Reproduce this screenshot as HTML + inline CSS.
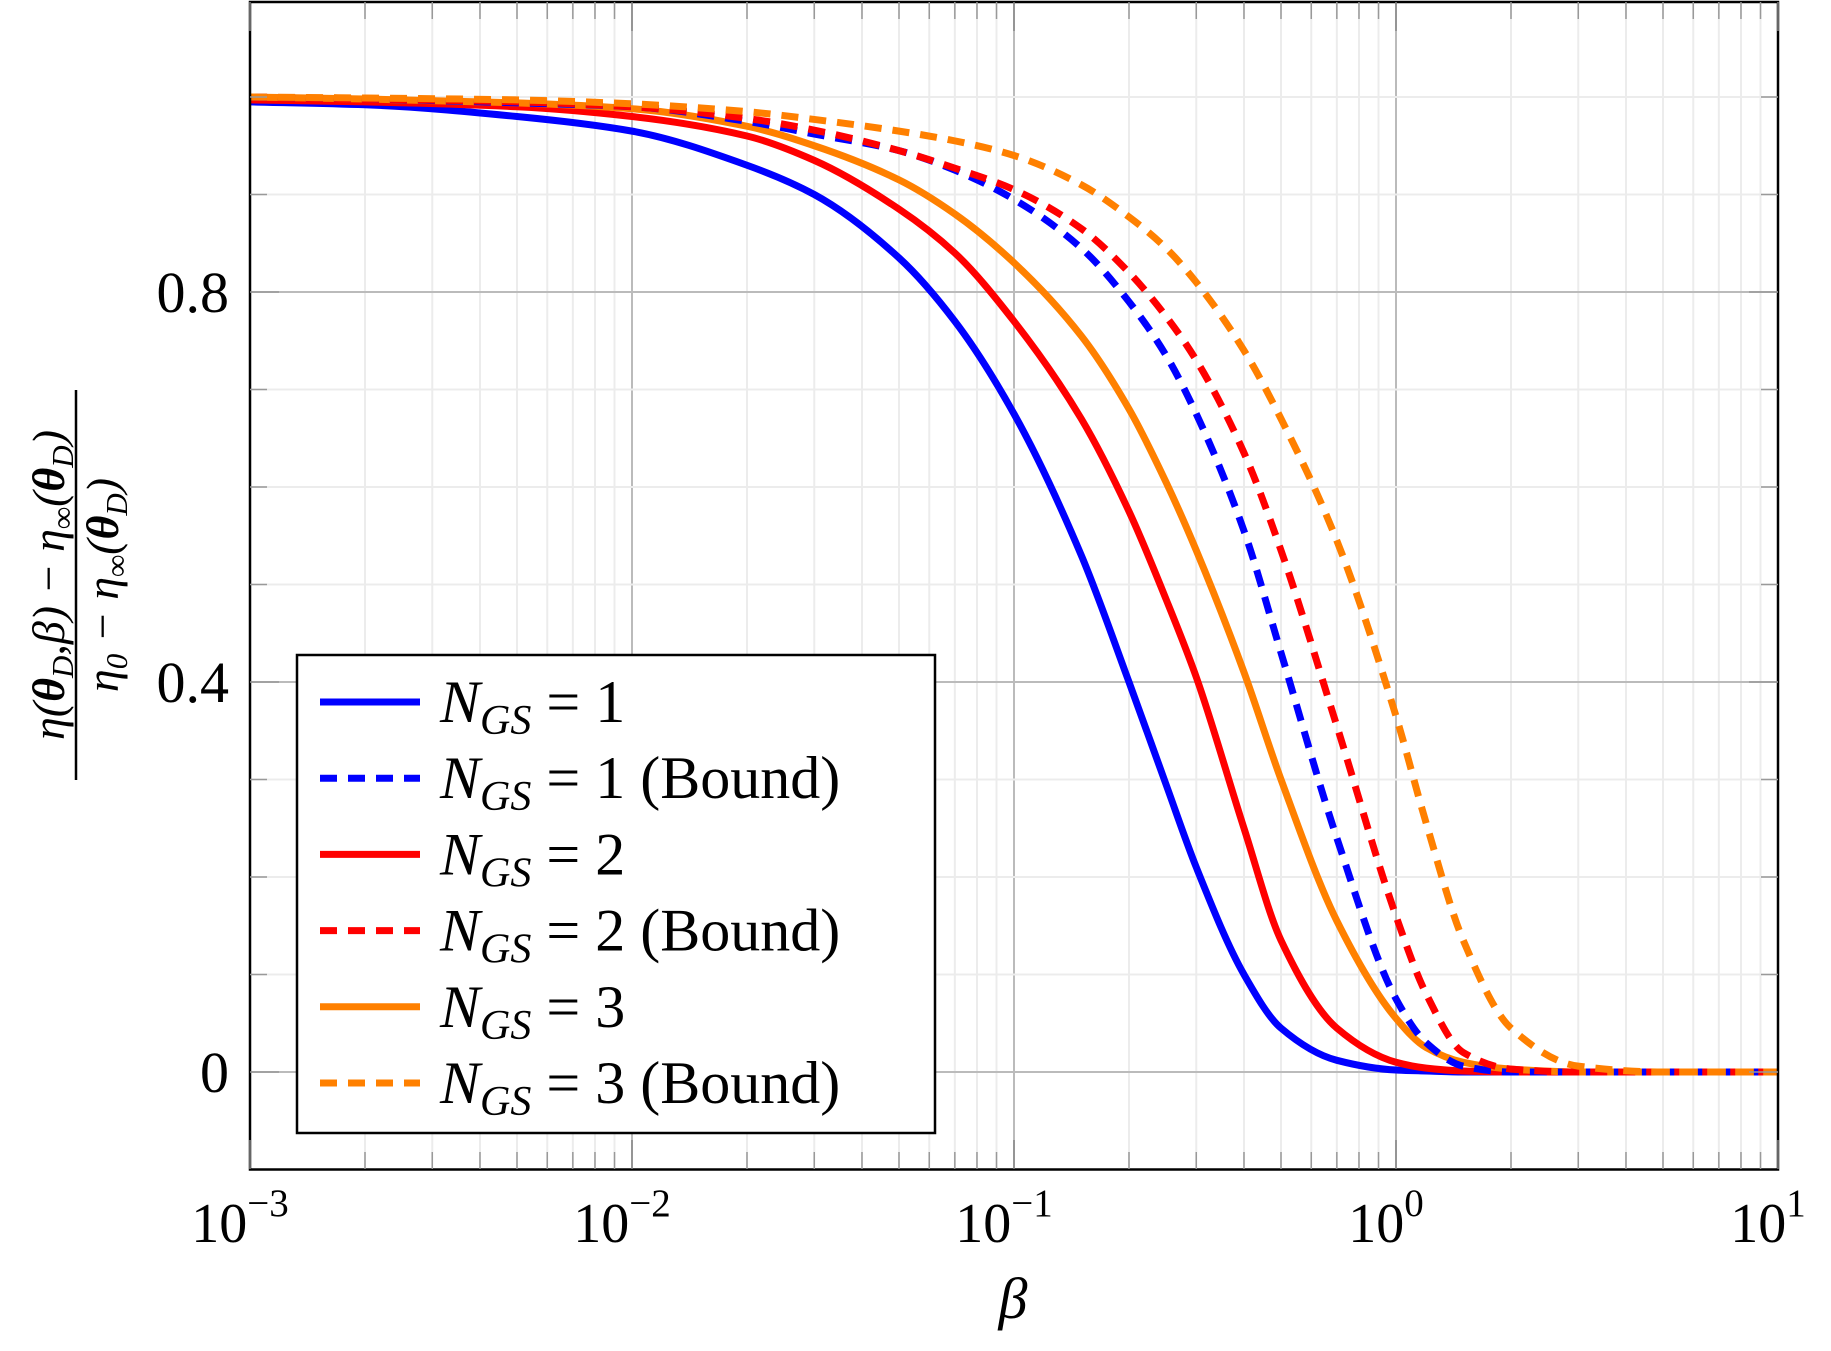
<!DOCTYPE html>
<html><head><meta charset="utf-8"><style>
body{margin:0;background:#fff}
svg text{font-family:"Liberation Serif",serif}
</style></head><body>
<svg id="chart" width="1831" height="1346">
<g id="grid"></g>
<g id="series"></g>
<rect x="250" y="2" width="1528" height="1167.5" fill="none" stroke="#000" stroke-width="2.5"/>
<g id="ticks"></g>
<text x="1013" y="1318" font-size="58" font-style="italic" text-anchor="middle">β</text>
<g transform="translate(76,585) rotate(-90)">
<text x="0" y="-12" font-size="46" font-style="italic" text-anchor="middle">η(<tspan font-weight="bold">θ</tspan><tspan font-size="31" dy="9">D</tspan><tspan dy="-9">,β) − η</tspan><tspan font-size="31" dy="9">∞</tspan><tspan dy="-9">(</tspan><tspan font-weight="bold">θ</tspan><tspan font-size="31" dy="9">D</tspan><tspan dy="-9">)</tspan></text>
<line x1="-195" y1="0" x2="195" y2="0" stroke="#000" stroke-width="2.5"/>
<text x="0" y="42" font-size="46" font-style="italic" text-anchor="middle">η<tspan font-size="31" dy="9">0</tspan><tspan dy="-9"> − η</tspan><tspan font-size="31" dy="9">∞</tspan><tspan dy="-9">(</tspan><tspan font-weight="bold">θ</tspan><tspan font-size="31" dy="9">D</tspan><tspan dy="-9">)</tspan></text>
</g>
<g id="legend"></g>
</svg>
<script>
const betas=[0.001,0.002,0.005,0.01,0.02,0.03,0.05,0.07,0.1,0.15,0.2,0.25,0.3,0.4,0.5,0.7,1,1.2,1.5,2,3,5,10];
const n1=[0.995,0.992,0.98,0.965,0.93,0.90,0.835,0.77,0.675,0.53,0.40,0.295,0.21,0.10,0.045,0.012,0.002,0.001,0,0,0,0,0];
const n1b=[1.0,0.998,0.994,0.99,0.975,0.962,0.945,0.925,0.895,0.845,0.79,0.735,0.675,0.555,0.43,0.24,0.075,0.03,0.006,0,0,0,0];
const n2=[0.997,0.995,0.99,0.98,0.96,0.935,0.885,0.84,0.77,0.67,0.575,0.485,0.405,0.25,0.135,0.045,0.01,0.004,0.001,0,0,0,0];
const n2b=[1.0,0.998,0.995,0.99,0.978,0.966,0.945,0.927,0.905,0.865,0.82,0.775,0.73,0.635,0.535,0.355,0.16,0.08,0.02,0.003,0,0,0];
const n3=[1.0,0.998,0.994,0.988,0.97,0.95,0.915,0.88,0.83,0.755,0.68,0.605,0.535,0.41,0.30,0.155,0.055,0.025,0.01,0.003,0,0,0];
const n3b=[1.0,0.999,0.997,0.993,0.985,0.977,0.965,0.955,0.94,0.91,0.877,0.845,0.81,0.74,0.67,0.545,0.365,0.255,0.135,0.045,0.006,0,0];
const yTicks=[0,0.4,0.8];
const xTickExp=[-3,-2,-1,0,1];
const legendLabels=["1","1 (Bound)","2","2 (Bound)","3","3 (Bound)"];
const NS="http://www.w3.org/2000/svg";
const X=b=>250+382*(Math.log10(b)+3);
const Y=v=>1072-975*v;
function mk(t,a,p){const e=document.createElementNS(NS,t);for(const k in a)e.setAttribute(k,a[k]);p.appendChild(e);return e;}
const grid=document.getElementById('grid'),ticks=document.getElementById('ticks');
for(let e=-3;e<1;e++)for(let m=2;m<10;m++){const b=m*Math.pow(10,e),x=X(b);
 const g=mk('line',{x1:x,y1:2,x2:x,y2:1169,stroke:'#ececec','stroke-width':2},grid);
 mk('line',{x1:x,y1:1169,x2:x,y2:1152,stroke:'#999','stroke-width':1.5},ticks);mk('line',{x1:x,y1:2,x2:x,y2:19,stroke:'#999','stroke-width':1.5},ticks);}
xTickExp.forEach(e=>{const x=X(Math.pow(10,e));
 const g=mk('line',{x1:x,y1:2,x2:x,y2:1169,stroke:'#bbb','stroke-width':2},grid);
 mk('line',{x1:x,y1:1169,x2:x,y2:1140,stroke:'#888','stroke-width':1.5},ticks);mk('line',{x1:x,y1:2,x2:x,y2:31,stroke:'#888','stroke-width':1.5},ticks);
 const t=mk('text',{x:x-10,y:1242,'font-size':56,'text-anchor':'middle'},ticks);t.textContent='10';
 
 const s=mk('tspan',{'font-size':39,dy:-26},t);s.textContent=(e<0?'−':'')+Math.abs(e);});
for(let i=0;i<=10;i++){const v=i/10,y=Y(v);const major=(i%4===0);
 const g=mk('line',{x1:250,y1:y,x2:1778,y2:y,stroke:major?'#bbb':'#ececec','stroke-width':2},grid);
 const L=major?29:17;
 mk('line',{x1:250,y1:y,x2:250+L,y2:y,stroke:'#999','stroke-width':1.5},ticks);mk('line',{x1:1778-L,y1:y,x2:1778,y2:y,stroke:'#999','stroke-width':1.5},ticks);}
yTicks.forEach(v=>{const t=mk('text',{x:229,y:Y(v)+20,'font-size':58,'text-anchor':'end'},ticks);t.textContent=String(v);
 });
const ser=document.getElementById('series');
const defs=[[n1,'#0000ff',false],[n2,'#ff0000',false],[n3,'#ff8000',false],[n1b,'#0000ff',true],[n2b,'#ff0000',true],[n3b,'#ff8000',true]];
const names=['n1','n2','n3','n1-bound','n2-bound','n3-bound'];
function monoPath(xs,ys){const n=xs.length,d=[],m=[];
 for(let i=0;i<n-1;i++)d.push((ys[i+1]-ys[i])/(xs[i+1]-xs[i]));
 m[0]=d[0];m[n-1]=d[n-2];
 for(let i=1;i<n-1;i++){if(d[i-1]*d[i]<=0)m[i]=0;else{const w1=2*(xs[i+1]-xs[i])+(xs[i]-xs[i-1]),w2=(xs[i+1]-xs[i])+2*(xs[i]-xs[i-1]);m[i]=(w1+w2)/(w1/d[i-1]+w2/d[i]);}}
 let s='M'+xs[0]+','+ys[0];
 for(let i=0;i<n-1;i++){const h=xs[i+1]-xs[i];
  s+=` C${xs[i]+h/3},${ys[i]+m[i]*h/3} ${xs[i+1]-h/3},${ys[i+1]-m[i+1]*h/3} ${xs[i+1]},${ys[i+1]}`;}
 return s;}
defs.forEach((d,i)=>{const xs=betas.map(b=>X(b)),ys=betas.map((b,j)=>Y(d[0][j]));
 const a={d:monoPath(xs,ys),fill:'none',stroke:d[1],'stroke-width':7};if(d[2])a['stroke-dasharray']='17 11';
 const p=mk('path',a,ser);});
const lg=document.getElementById('legend');
mk('rect',{x:297,y:655,width:638,height:478,fill:'#fff',stroke:'#000','stroke-width':2.5},lg);
const lcol=['#0000ff','#0000ff','#ff0000','#ff0000','#ff8000','#ff8000'];
legendLabels.forEach((l,i)=>{const y=702+76.2*i;
 const a={x1:320,y1:y,x2:420,y2:y,stroke:lcol[i],'stroke-width':7};if(i%2)a['stroke-dasharray']='17 11';
 const ln=mk('line',a,lg);
 const t=mk('text',{x:440,y:y+20,'font-size':60},lg);
 const n=mk('tspan',{'font-style':'italic'},t);n.textContent='N';
 const sub=mk('tspan',{'font-style':'italic','font-size':42,dy:12},t);sub.textContent='GS';
 const r=mk('tspan',{dy:-12},t);r.textContent='  =  '+l;});
</script>
</body></html>
